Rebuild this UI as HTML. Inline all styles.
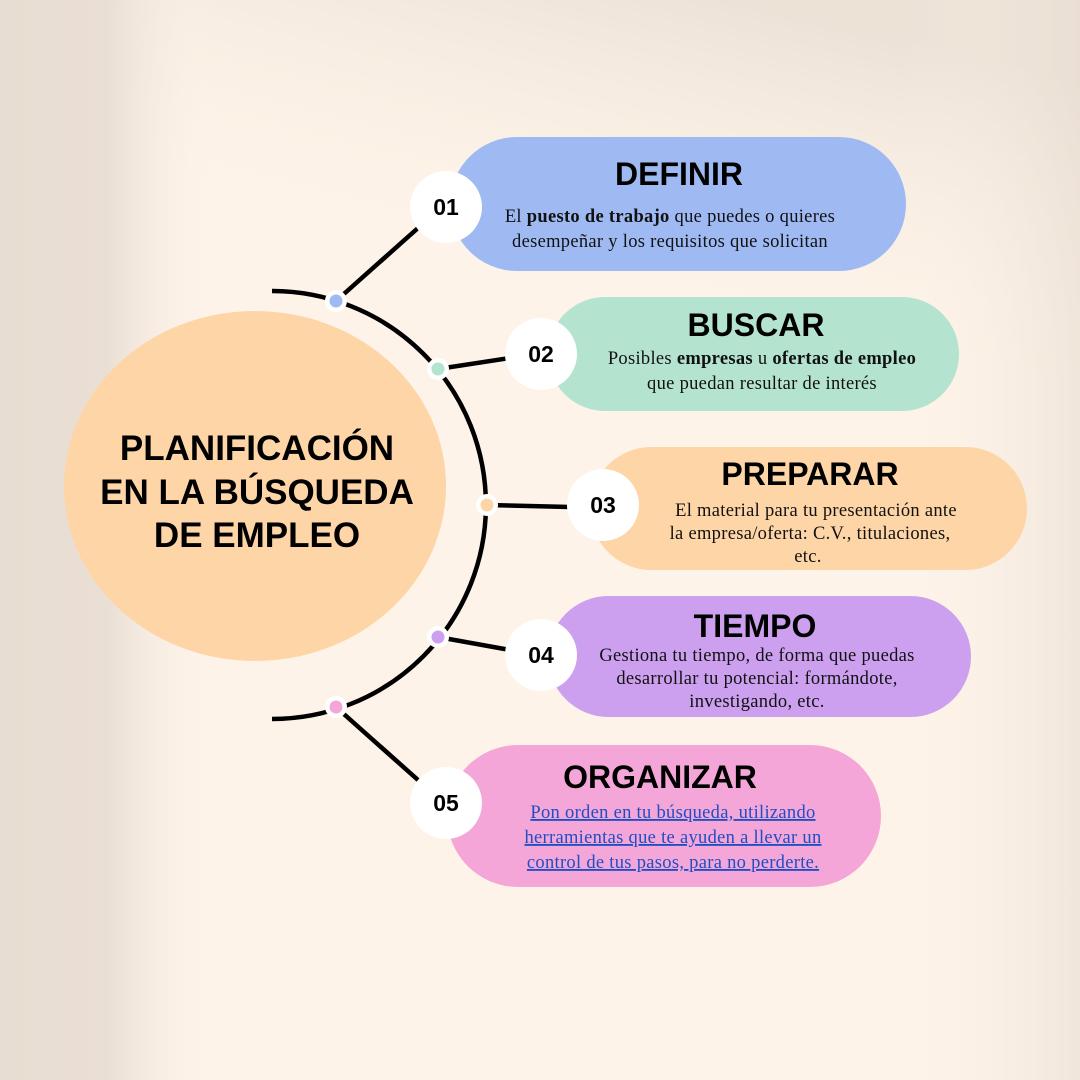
<!DOCTYPE html>
<html><head><meta charset="utf-8"><style>
html,body{margin:0;padding:0;}
body{width:1080px;height:1080px;overflow:hidden;background:#fdf3e8;}
svg{display:block;}
</style></head><body>
<svg width="1080" height="1080" viewBox="0 0 1080 1080" xmlns="http://www.w3.org/2000/svg">
<defs>
<linearGradient id="lft" x1="0" y1="0" x2="1" y2="0">
<stop offset="0" stop-color="#e8ddd2"/><stop offset="0.1" stop-color="#eadfd4"/><stop offset="0.2" stop-color="#fdf3e8" stop-opacity="0"/>
</linearGradient>
<linearGradient id="tr" x1="0" y1="0" x2="1" y2="0">
<stop offset="0" stop-color="#fdf3e8" stop-opacity="0"/><stop offset="1" stop-color="#e8ddd2"/>
</linearGradient>
<linearGradient id="diag" x1="0.3" y1="0.6" x2="0.7" y2="0">
<stop offset="0" stop-color="#fdf3e8" stop-opacity="0"/><stop offset="1" stop-color="#e8ddd2"/>
</linearGradient>
</defs>
<rect width="1080" height="1080" fill="#fdf3e8"/>
<rect width="1080" height="400" fill="url(#diag)" opacity="0.8"/>
<rect width="1080" height="1080" fill="url(#lft)"/>
<rect x="900" width="180" height="1080" fill="url(#tr)" opacity="0.6"/>

<ellipse cx="255" cy="486" rx="191" ry="175" fill="#fed5a6"/>
<g font-family="Liberation Sans, sans-serif" font-weight="bold" font-size="35" text-anchor="middle" fill="#000">
<text x="257" y="460">PLANIFICACIÓN</text>
<text x="257" y="504">EN LA BÚSQUEDA</text>
<text x="257" y="547">DE EMPLEO</text>
</g>

<rect x="450" y="137" width="456" height="134" rx="67" fill="#9fbaf3"/>
<rect x="548" y="297" width="411" height="114" rx="57" fill="#b4e3d0"/>
<rect x="590" y="447" width="437" height="123" rx="61.5" fill="#fed5a6"/>
<rect x="548" y="596" width="423" height="121" rx="60.5" fill="#cda0ef"/>
<rect x="447" y="745" width="434" height="142" rx="71" fill="#f5a6d8"/>

<g stroke="#000" stroke-width="4.5" fill="none">
<path d="M272,291 A214,214 0 0 1 272,719"/>
<line x1="336" y1="301" x2="418" y2="228"/>
<line x1="438" y1="369" x2="510" y2="358"/>
<line x1="487" y1="505" x2="570" y2="507"/>
<line x1="438" y1="637" x2="510" y2="650"/>
<line x1="336" y1="707" x2="418" y2="780"/>
</g>
<g>
<circle cx="336" cy="301" r="11" fill="#fff"/><circle cx="336" cy="301" r="6.5" fill="#9fbaf3"/>
<circle cx="438" cy="369" r="11" fill="#fff"/><circle cx="438" cy="369" r="6.5" fill="#b4e3d0"/>
<circle cx="487" cy="505" r="11" fill="#fff"/><circle cx="487" cy="505" r="6.5" fill="#fed5a6"/>
<circle cx="438" cy="637" r="11" fill="#fff"/><circle cx="438" cy="637" r="6.5" fill="#cda0ef"/>
<circle cx="336" cy="707" r="11" fill="#fff"/><circle cx="336" cy="707" r="6.5" fill="#f5a6d8"/>
</g>
<g fill="#fff">
<circle cx="446" cy="207" r="36"/>
<circle cx="541" cy="354" r="36"/>
<circle cx="603" cy="505" r="36"/>
<circle cx="541" cy="655" r="36"/>
<circle cx="446" cy="803" r="36"/>
</g>
<g font-family="Liberation Sans, sans-serif" font-weight="bold" font-size="23" text-anchor="middle" fill="#000">
<text x="446" y="215">01</text>
<text x="541" y="362">02</text>
<text x="603" y="513">03</text>
<text x="541" y="663">04</text>
<text x="446" y="811">05</text>
</g>
<g font-family="Liberation Sans, sans-serif" font-weight="bold" font-size="32" text-anchor="middle" fill="#000">
<text x="679" y="185">DEFINIR</text>
<text x="756" y="336">BUSCAR</text>
<text x="810" y="485">PREPARAR</text>
<text x="755" y="637">TIEMPO</text>
<text x="660" y="788">ORGANIZAR</text>
</g>
<g font-family="Liberation Serif, serif" font-size="18.5" letter-spacing="0.3" text-anchor="middle" fill="#111">
<text x="670" y="222">El <tspan font-weight="bold">puesto de trabajo</tspan> que puedes o quieres</text>
<text x="670" y="247">desempeñar y los requisitos que solicitan</text>
<text x="762" y="364">Posibles <tspan font-weight="bold">empresas</tspan> u <tspan font-weight="bold">ofertas de empleo</tspan></text>
<text x="762" y="389">que puedan resultar de  interés</text>
<text x="816" y="516">El material para tu presentación ante</text>
<text x="810" y="539">la empresa/oferta:  C.V., titulaciones,</text>
<text x="808" y="562">etc.</text>
<text x="757" y="661">Gestiona tu tiempo, de forma que puedas</text>
<text x="757" y="684">desarrollar tu potencial: formándote,</text>
<text x="757" y="707">investigando, etc.</text>
</g>
<g font-family="Liberation Serif, serif" font-size="18.5" letter-spacing="0.3" text-anchor="middle" fill="#1d4fc4">
<text x="673" y="818" text-decoration="underline">Pon orden en tu búsqueda, utilizando</text>
<text x="673" y="843" text-decoration="underline">herramientas que te ayuden a llevar un</text>
<text x="673" y="868" text-decoration="underline">control de tus pasos, para no perderte.</text>
</g>
</svg>
</body></html>
